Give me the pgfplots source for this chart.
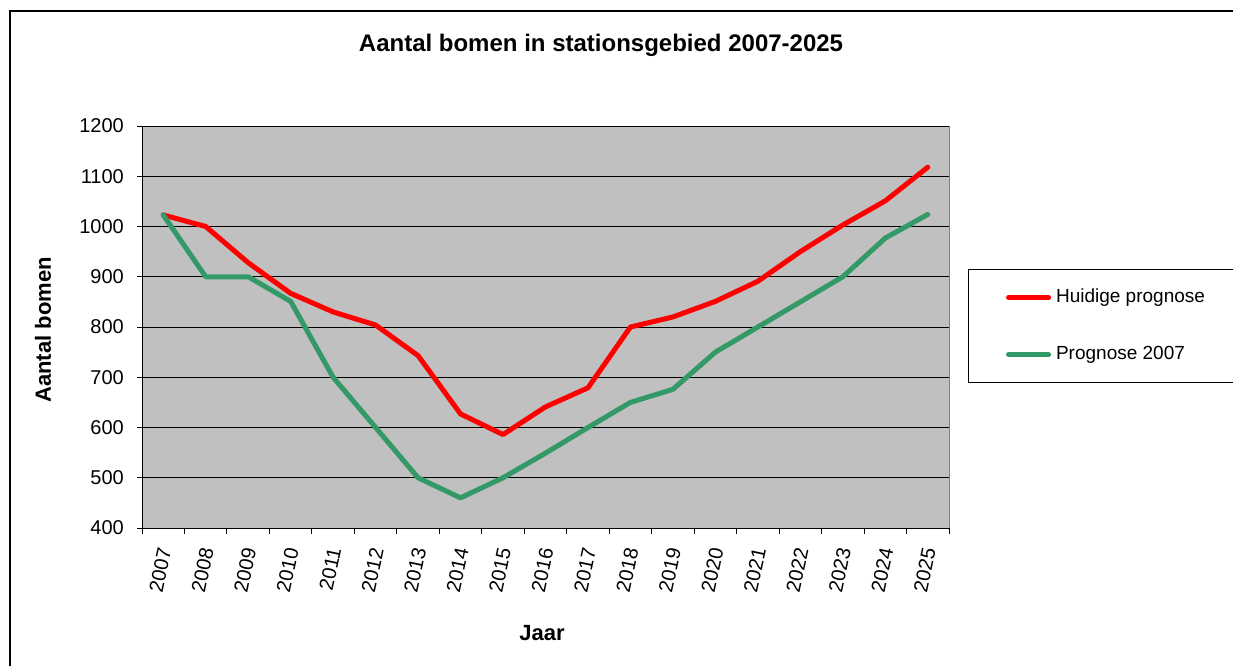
\documentclass[border=0pt]{standalone}
\usepackage{fontspec}
\setmainfont{Liberation Sans}
\usepackage{pgfplots}
\pgfplotsset{compat=1.18}
\definecolor{plotgray}{RGB}{192,192,192}
\definecolor{framegray}{RGB}{128,128,128}
\definecolor{xlred}{RGB}{255,0,0}
\definecolor{xlgreen}{RGB}{51,153,102}
\begin{document}
\begin{tikzpicture}
\useasboundingbox (0bp,0bp) rectangle (1233bp,-666bp);
\clip (0bp,0bp) rectangle (1233bp,-666bp);
\draw[black, line width=1.6bp] (10bp,-11bp) rectangle (1260bp,-700bp);
\node[font=\fontsize{24bp}{28bp}\selectfont\bfseries] at (601bp,-45bp) {Aantal bomen in stationsgebied 2007-2025};
\begin{axis}[
  at={(142bp,-528bp)}, anchor=south west,
  scale only axis, width=807bp, height=402bp,
  xmin=-0.5, xmax=18.5, ymin=400, ymax=1200,
  xtick={0,...,18},
  xticklabels={2007,2008,2009,2010,2011,2012,2013,2014,2015,2016,2017,2018,2019,2020,2021,2022,2023,2024,2025},
  minor xtick={-0.5,0.5,...,18.5},
  ytick={400,500,...,1200},
  axis x line*=bottom, axis y line*=left,
  axis line style={black, line width=1bp, -},
  axis background/.style={fill=plotgray, draw=framegray, line width=1bp},
  ymajorgrids, grid style={black, line width=0.9bp},
  tick align=outside,
  major tick length=5bp, minor tick length=6bp,
  major x tick style={draw=none},
  every tick/.style={black, line width=1bp},
  minor x tick style={black, line width=1bp},
  /pgf/number format/assume math mode=true,
  /pgf/number format/1000 sep={},
  tick label style={font=\fontsize{20bp}{24bp}\selectfont},
  xticklabel style={yshift=-13bp, xshift=2bp, rotate=78, anchor=east, inner sep=2bp},
  yticklabel style={xshift=-11bp, inner sep=2bp},
  xlabel={Jaar}, ylabel={Aantal bomen},
  label style={font=\fontsize{22bp}{26bp}\selectfont\bfseries},
  xlabel style={at={(axis description cs:0.4957,-0.261)}, anchor=center},
  ylabel style={at={(axis description cs:-0.1227,0.4925)}, anchor=center, rotate=0},
  legend style={at={(axis description cs:1.0235,0.6443)}, anchor=north west,
    draw=black, line width=1.2bp, fill=white,
    inner xsep=37.5bp, inner ysep=19bp,
    row sep=39bp, column sep=5bp,
    font=\fontsize{19bp}{23bp}\selectfont,
    nodes={inner sep=0pt, text height=14bp, text depth=4bp, anchor=west}},
  legend cell align=left,
  legend image code/.code={\draw[#1] (0bp,0bp) -- (40bp,0bp);},
  every axis plot/.append style={line width=5bp, line join=round, line cap=round},
]
\addplot[xlred] coordinates {
(0,1023) (1,1000) (2,928) (3,867) (4,830) (5,804) (6,743) (7,627) (8,586)
(9,641) (10,679) (11,800) (12,820) (13,851) (14,891) (15,950) (16,1003) (17,1051) (18,1118)};
\addlegendentry{\makebox[230bp][l]{Huidige prognose}}
\addplot[xlgreen] coordinates {
(0,1023) (1,900) (2,900) (3,851) (4,700) (5,600) (6,500) (7,460) (8,500)
(9,549) (10,600) (11,650) (12,676) (13,750) (14,800) (15,850) (16,900) (17,977) (18,1024)};
\addlegendentry{\makebox[230bp][l]{Prognose 2007}}
\end{axis}
\end{tikzpicture}
\end{document}
